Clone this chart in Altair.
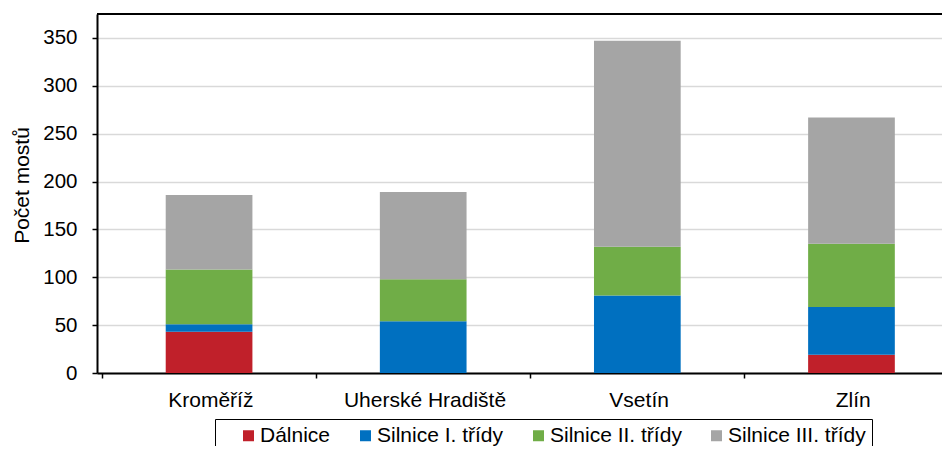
import json
import altair as alt
import pandas as pd

# ---- data ----
categories = ["Kroměříž", "Uherské Hradiště", "Vsetín", "Zlín"]
series = ["Dálnice", "Silnice I. třídy", "Silnice II. třídy", "Silnice III. třídy"]
dalnice = [43, 0, 0, 19]
silnice_1 = [8, 54, 81, 50]
silnice_2 = [57, 44, 51, 66]
silnice_3 = [78, 91, 215, 132]
colors = ["#C0202A", "#0070C0", "#70AD47", "#A5A5A5"]
y_ticks = [0, 50, 100, 150, 200, 250, 300, 350]

rows = []
for s_idx, (name, vals) in enumerate(zip(series, [dalnice, silnice_1, silnice_2, silnice_3])):
    for c_idx, (cat, v) in enumerate(zip(categories, vals)):
        rows.append({"kategorie": cat, "pos": c_idx + 0.5, "typ": name, "ord": s_idx, "pocet": v})
df = pd.DataFrame(rows)

# ---- layout ----
W, H = 845, 359
STEP = 216.7
X_MAX = W / STEP
FONT = "Liberation Sans"
FS = 21

label_expr = json.dumps(categories, ensure_ascii=False) + "[datum.value]"
legend_label_expr = (
    "datum.value == " + json.dumps(series[-1], ensure_ascii=False)
    + " ? datum.label + '\u00a0\u00a0' : datum.label"
)

bars = alt.Chart(df).mark_bar(size=86.7).encode(
    x=alt.X(
        "pos:Q",
        scale=alt.Scale(domain=[0, X_MAX], nice=False, zero=False),
        axis=alt.Axis(
            title=None,
            values=list(range(len(categories))),
            labelExpr=label_expr,
            labelOffset=STEP / 2,
            labelFlush=False,
            labelOverlap=False,
            labelBound=False,
            grid=False,
            tickSize=5,
            tickWidth=1.5,
            tickColor="black",
            domainColor="black",
            domainWidth=2,
            labelFont=FONT,
            labelFontSize=FS,
            labelColor="black",
            labelPadding=11,
        ),
    ),
    y=alt.Y(
        "pocet:Q",
        stack="zero",
        scale=alt.Scale(domain=[0, 375], nice=False),
        axis=alt.Axis(
            title="Počet mostů",
            values=y_ticks,
            grid=True,
            gridColor="#D9D9D9",
            gridWidth=1.5,
            tickSize=5,
            tickWidth=1.5,
            tickColor="black",
            domainColor="black",
            domainWidth=2,
            labelFont=FONT,
            labelFontSize=20.5,
            labelColor="black",
            labelPadding=15,
            titleFont=FONT,
            titleFontSize=FS,
            titleFontWeight="normal",
            titleColor="black",
            titlePadding=10,
            titleY=171,
        ),
    ),
    color=alt.Color(
        "typ:N",
        scale=alt.Scale(domain=series, range=colors),
        legend=alt.Legend(
            title="\u00a0",
            titleOrient="left",
            titleFontSize=FS,
            titlePadding=17,
            orient="none",
            legendX=118,
            legendY=405,
            direction="horizontal",
            strokeColor="black",
            fillColor="white",
            padding=6,
            symbolType="square",
            symbolSize=121,
            symbolStrokeWidth=0,
            labelFont=FONT,
            labelFontSize=FS,
            labelColor="black",
            labelOffset=1,
            columnPadding=24,
            labelLimit=400,
            labelExpr=legend_label_expr,
        ),
    ),
    order=alt.Order("ord:Q", sort="ascending"),
)

frame_top = alt.Chart(pd.DataFrame({"f": [0]})).mark_rule(color="black", strokeWidth=2).encode(
    y=alt.value(0)
)

chart = (
    alt.layer(bars, frame_top)
    .properties(
        width=W,
        height=H,
        autosize=alt.AutoSizeParams(type="none"),
        padding={"left": 89, "top": 6, "right": 0, "bottom": 73},
        background="white",
    )
    .configure_view(stroke=None)
)

chart.save("out.html", embed_options={"renderer": "svg", "actions": False})
